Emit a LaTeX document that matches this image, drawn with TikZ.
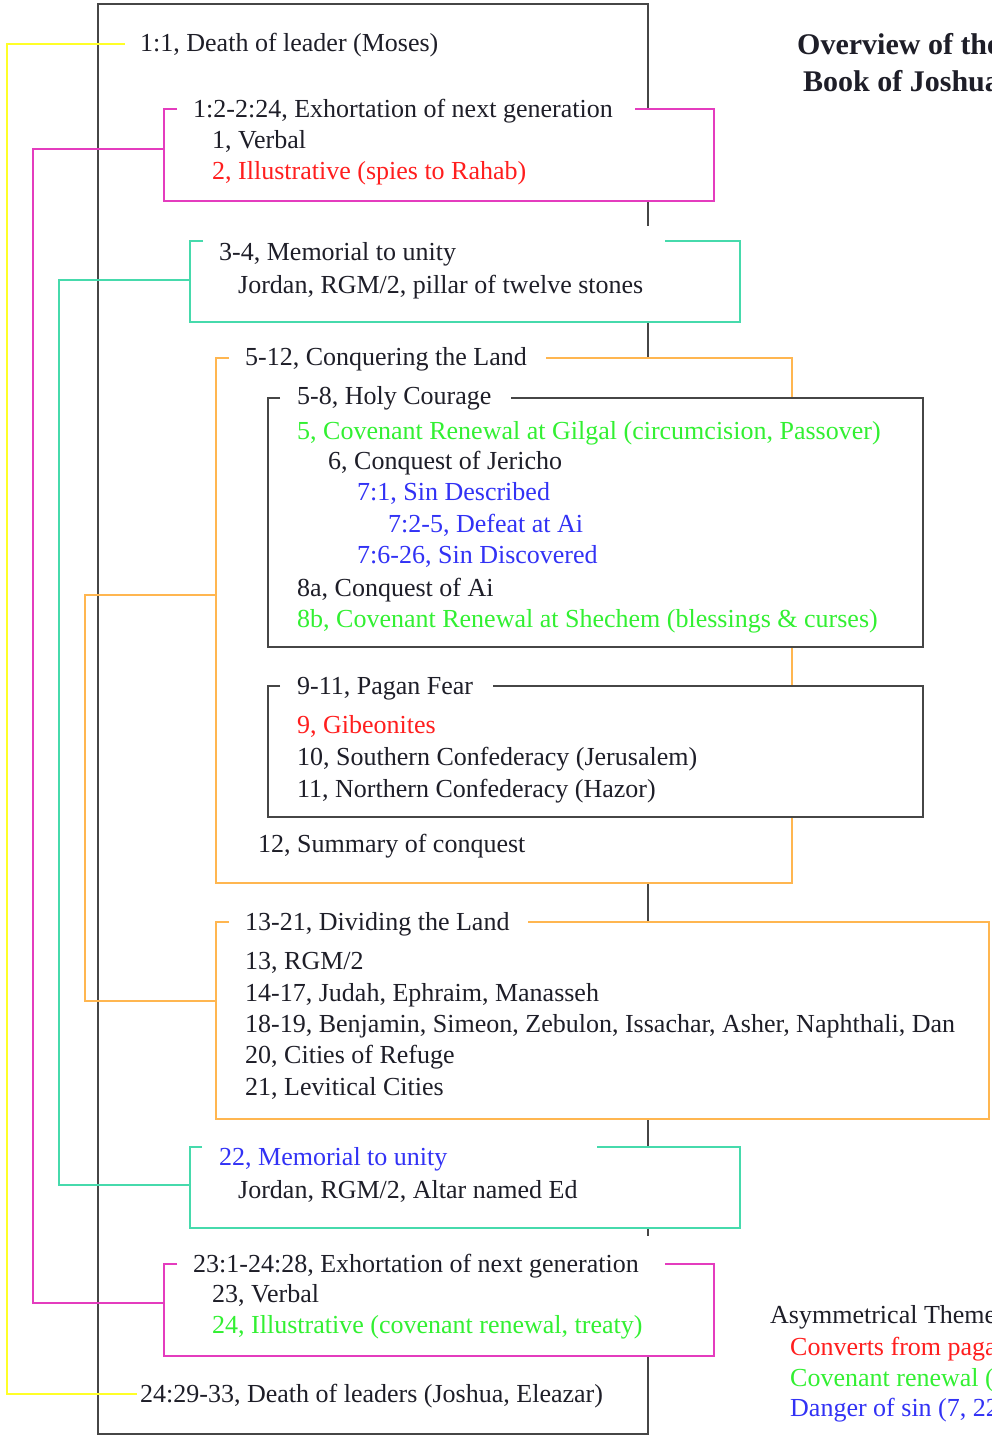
\documentclass[tikz,border=0pt]{standalone}
\usepackage{fontspec}
\setmainfont{Liberation Serif}
\definecolor{cpink}{RGB}{228,60,190}
\definecolor{cyel}{RGB}{255,255,40}
\definecolor{cteal}{RGB}{70,218,172}
\definecolor{corange}{RGB}{255,182,80}
\definecolor{cred}{RGB}{255,30,30}
\definecolor{cgreen}{RGB}{50,240,50}
\definecolor{cblue}{RGB}{50,50,245}
\definecolor{cdark}{RGB}{30,30,40}
\definecolor{cgray}{RGB}{70,70,70}
\begin{document}
\begin{tikzpicture}[x=1pt,y=-1pt,
  txt/.style={anchor=base west,inner sep=0,font=\fontsize{26}{31}\selectfont,text=cdark},
  ttl/.style={anchor=base west,inner sep=0,font=\fontsize{30}{36}\selectfont\bfseries,text=cdark},
  spine/.style={draw=cgray,line width=2pt},
  inner/.style={draw=cgray,line width=2.3pt},
  pinkl/.style={draw=cpink,line width=2pt},
  yell/.style={draw=cyel,line width=2pt},
  teall/.style={draw=cteal,line width=2pt},
  orl/.style={draw=corange,line width=2pt},
  line join=miter]
\useasboundingbox (0,0) rectangle (992,1437);
\clip (0,0) rectangle (992,1437);
\fill[white] (0,0) rectangle (992,1437);

% ---- outer black frame and spine segments
\draw[spine] (648,109) -- (648,4) -- (98,4) -- (98,1434) -- (648,1434) -- (648,1356);
\draw[spine] (648,201) -- (648,226);
\draw[spine] (648,322) -- (648,358);
\draw[spine] (648,883) -- (648,922);
\draw[spine] (648,1119) -- (648,1147);
\draw[spine] (648,1228) -- (648,1236);

% ---- yellow bracket
\coordinate (y1) at (125,44);
\coordinate (y2) at (137,1394);
\draw[yell] (y1) -- (7,44) -- (7,1394) -- (y2);

% ---- pink boxes
\draw[pinkl] (177,109) -- (164,109) -- (164,201) -- (714,201) -- (714,109) -- (635,109);
\draw[pinkl] (177,1264) -- (164,1264) -- (164,1356) -- (714,1356) -- (714,1264) -- (665,1264);
\coordinate (p1) at (164,149);
\coordinate (p2) at (164,1303);
\draw[pinkl] (p1) -- (33,149) -- (33,1303) -- (p2);

% ---- teal boxes
\draw[teall] (203,241) -- (190,241) -- (190,322) -- (740,322) -- (740,241) -- (665,241);
\draw[teall] (202,1147) -- (190,1147) -- (190,1228) -- (740,1228) -- (740,1147) -- (597,1147);
\coordinate (q1) at (190,280);
\coordinate (q2) at (190,1185);
\draw[teall] (q1) -- (59,280) -- (59,1185) -- (q2);

% ---- orange boxes
\draw[orl] (229,358) -- (216,358) -- (216,883) -- (792,883) -- (792,817);
\draw[orl] (792,647) -- (792,686);
\draw[orl] (792,398) -- (792,358) -- (546,358);
\draw[orl] (229,922) -- (216,922) -- (216,1119) -- (989,1119) -- (989,922) -- (528,922);
\coordinate (o1) at (216,595);
\coordinate (o2) at (216,1001);
\draw[orl] (o1) -- (85,595) -- (85,1001) -- (o2);

% ---- inner black boxes
\draw[inner] (280,398) -- (268,398) -- (268,647) -- (923,647) -- (923,398) -- (511,398);
\draw[inner] (280,686) -- (268,686) -- (268,817) -- (923,817) -- (923,686) -- (493,686);

% ---- texts
\node[txt] (t1) at (140,52) {1:1, Death of leader (Moses)};
\node[txt] (e1) at (193,117) {1:2-2:24, Exhortation of next generation};
\node[txt] (e1a) at (212,148) {1, Verbal};
\node[txt,text=cred] (e1b) at (212,179) {2, Illustrative (spies to Rahab)};
\node[txt] (m1) at (219,260) {3-4, Memorial to unity};
\node[txt] (m1a) at (238,293) {Jordan, RGM/2, pillar of twelve stones};
\node[txt] (c) at (245,365) {5-12, Conquering the Land};
\node[txt] (h) at (297,404) {5-8, Holy Courage};
\node[txt,text=cgreen] (h1) at (297,439) {5, Covenant Renewal at Gilgal (circumcision, Passover)};
\node[txt] (h2) at (328,469) {6, Conquest of Jericho};
\node[txt,text=cblue] (h3) at (357,500) {7:1, Sin Described};
\node[txt,text=cblue] (h4) at (388,532) {7:2-5, Defeat at Ai};
\node[txt,text=cblue] (h5) at (357,563) {7:6-26, Sin Discovered};
\node[txt] (h6) at (297,596) {8a, Conquest of Ai};
\node[txt,text=cgreen] (h7) at (297,627) {8b, Covenant Renewal at Shechem (blessings \& curses)};
\node[txt] (pf) at (297,694) {9-11, Pagan Fear};
\node[txt,text=cred] (pf1) at (297,733) {9, Gibeonites};
\node[txt] (pf2) at (297,765) {10, Southern Confederacy (Jerusalem)};
\node[txt] (pf3) at (297,797) {11, Northern Confederacy (Hazor)};
\node[txt] (s) at (258,852) {12, Summary of conquest};
\node[txt] (d) at (245,930) {13-21, Dividing the Land};
\node[txt] (d1) at (245,969) {13, RGM/2};
\node[txt] (d2) at (245,1001) {14-17, Judah, Ephraim, Manasseh};
\node[txt] (d3) at (245,1032) {18-19, Benjamin, Simeon, Zebulon, Issachar, Asher, Naphthali, Dan};
\node[txt] (d4) at (245,1063) {20, Cities of Refuge};
\node[txt] (d5) at (245,1095) {21, Levitical Cities};
\node[txt,text=cblue] (m2) at (219,1165) {22, Memorial to unity};
\node[txt] (m2a) at (238,1198) {Jordan, RGM/2, Altar named Ed};
\node[txt] (e2) at (193,1272) {23:1-24:28, Exhortation of next generation};
\node[txt] (e2a) at (212,1302) {23, Verbal};
\node[txt,text=cgreen] (e2b) at (212,1333) {24, Illustrative (covenant renewal, treaty)};
\node[txt] (t2) at (140,1402) {24:29-33, Death of leaders (Joshua, Eleazar)};

% ---- title
\node[ttl] (ti1) at (797,55) {Overview of the};
\node[ttl] (ti2) at (803,92) {Book of Joshua};

% ---- legend
\node[txt] (l0) at (770,1323) {Asymmetrical Themes};
\node[txt,text=cred] (l1) at (790,1355) {Converts from pagans};
\node[txt,text=cgreen] (l2) at (790,1386) {Covenant renewal (};
\node[txt,text=cblue] (l3) at (790,1416) {Danger of sin (7, 22};
\end{tikzpicture}
\end{document}
